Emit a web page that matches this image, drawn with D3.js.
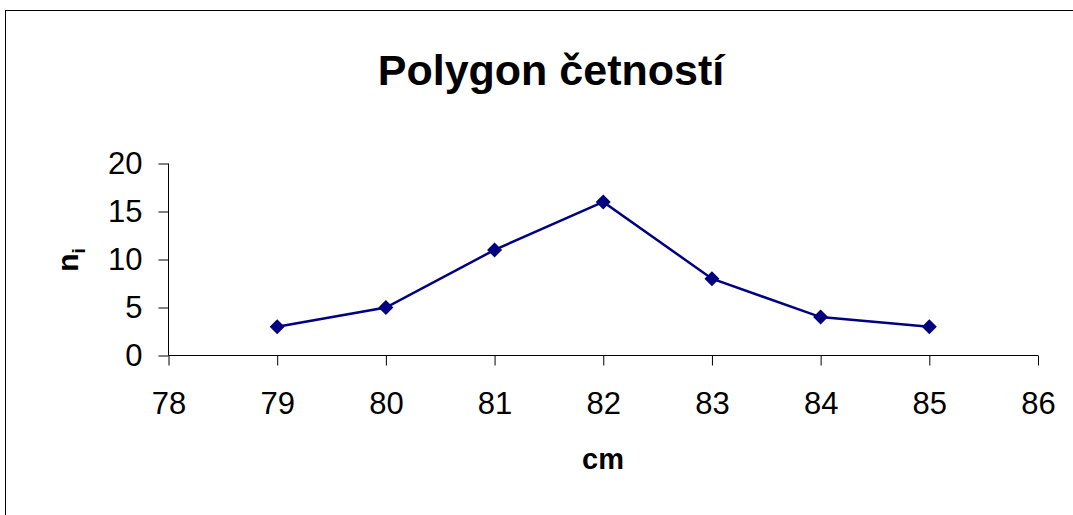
<!DOCTYPE html>
<html><head><meta charset="utf-8">
<script src="https://cdn.jsdelivr.net/npm/d3@7"></script>
<style>
html,body{margin:0;padding:0;background:#fff;overflow:hidden;}
svg{display:block;font-family:"Liberation Sans",Arial,sans-serif;}
</style></head>
<body>
<svg id="chart" width="1073" height="515"></svg>
<script>
const categories = [79, 80, 81, 82, 83, 84, 85];
const values = [3, 5, 11, 16, 8, 4, 3];
const xTicks = [78, 79, 80, 81, 82, 83, 84, 85, 86];
const yTicks = [0, 5, 10, 15, 20];
const title = "Polygon četností";
const xLabel = "cm";

const svg = d3.select("#chart");
const x = d3.scaleLinear().domain([78, 86]).range([168.5, 1038]);
const y = d3.scaleLinear().domain([0, 20]).range([355.5, 163.5]);

// outer border (only left/top visible)
svg.append("rect").attr("x", 5.5).attr("y", 10.5).attr("width", 1200).attr("height", 700)
  .attr("fill", "none").attr("stroke", "#000").attr("stroke-width", 1);

// title
svg.append("text").attr("x", 551).attr("y", 85).attr("text-anchor", "middle")
  .attr("font-size", 43).attr("font-weight", "bold").text(title);

// y axis
const yAxis = d3.axisLeft(y).tickValues(yTicks).tickSize(10).tickPadding(16);
const gy = svg.append("g").attr("transform", "translate(168.5,0)").call(yAxis);
gy.select(".domain").attr("stroke", "#000").attr("d", `M0,${y(20)}V${y(0)}`);
gy.selectAll(".tick line").attr("stroke", "#000");
gy.selectAll(".tick text").attr("font-size", 31).attr("fill", "#000")
  .attr("font-family", "Liberation Sans, Arial, sans-serif");

// x axis
const xAxis = d3.axisBottom(x).tickValues(xTicks).tickSize(10).tickPadding(26);
const gx = svg.append("g").attr("transform", "translate(0,355.5)").call(xAxis);
gx.select(".domain").attr("stroke", "#000").attr("d", `M${x(78)},0H${x(86)}`);
gx.selectAll(".tick line").attr("stroke", "#000");
gx.selectAll(".tick text").attr("font-size", 31).attr("fill", "#000")
  .attr("font-family", "Liberation Sans, Arial, sans-serif");

// axis titles
svg.append("text").attr("x", 603).attr("y", 469).attr("text-anchor", "middle")
  .attr("font-size", 29).attr("font-weight", "bold").text(xLabel);

const yl = svg.append("text").attr("transform", "translate(78,260) rotate(-90)")
  .attr("text-anchor", "middle").attr("font-size", 30).attr("font-weight", "bold");
yl.append("tspan").text("n");
yl.append("tspan").attr("font-size", 19).attr("dy", 7).text("i");

// line
const data = categories.map((c, i) => ({c, v: values[i]}));
svg.append("path").datum(data)
  .attr("fill", "none").attr("stroke", "#000080").attr("stroke-width", 2.5)
  .attr("d", d3.line().x(d => x(d.c)).y(d => y(d.v)));

svg.selectAll(".pt").data(data).enter().append("path").attr("class", "pt")
  .attr("transform", d => `translate(${x(d.c)},${y(d.v)})`)
  .attr("d", "M0,-7.5L7.5,0L0,7.5L-7.5,0Z").attr("fill", "#000080");
</script>
</body></html>
